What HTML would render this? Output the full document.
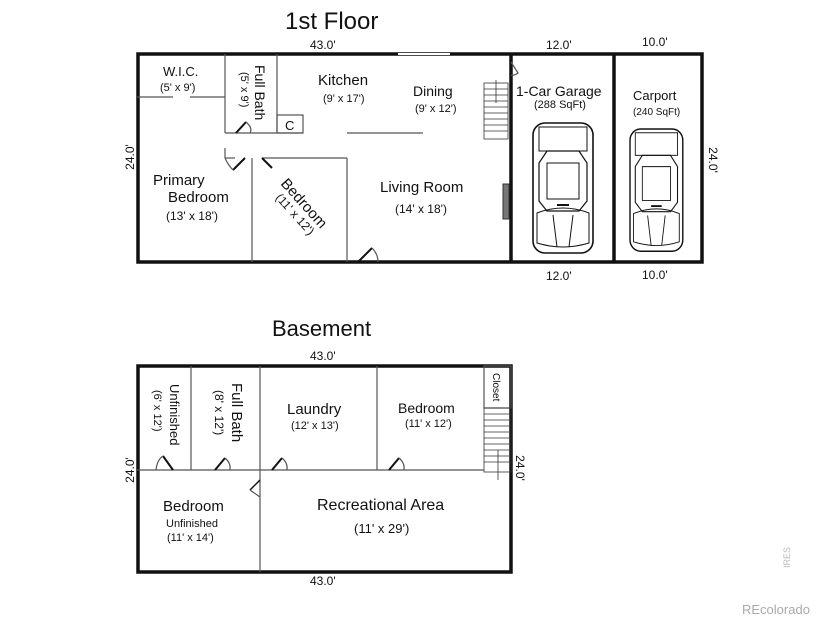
<!DOCTYPE html>
<html><head><meta charset="utf-8"><style>
html,body{margin:0;padding:0;background:#fff}
svg{display:block}
text{font-family:"Liberation Sans",Arial,sans-serif;fill:#111}
</style></head><body>
<svg width="825" height="619" viewBox="0 0 825 619" xmlns="http://www.w3.org/2000/svg">
<defs>
<g id="car">
  <rect x="0" y="0" width="60" height="130" rx="12" fill="none" stroke="#111" stroke-width="1.6"/>
  <rect x="6" y="4" width="48" height="24" fill="none" stroke="#111" stroke-width="1"/>
  <path d="M6 40 L14 28 L46 28 L54 40 L54 78 L46 88 L14 88 L6 78 Z" fill="none" stroke="#111" stroke-width="1.2"/>
  <path d="M14 40 L46 40 L46 76 L14 76 Z" fill="none" stroke="#111" stroke-width="1"/>
  <path d="M4 90 Q30 80 56 90 L56 120 Q30 128 4 120 Z" fill="none" stroke="#111" stroke-width="1"/>
  <line x1="20" y1="92" x2="24" y2="124" stroke="#111"/><line x1="40" y1="92" x2="36" y2="124" stroke="#111"/>
  <line x1="24" y1="82" x2="36" y2="82" stroke="#111" stroke-width="2"/>
</g>
</defs>
<text x="285" y="29" font-size="24">1st Floor</text>
<text x="310" y="49" font-size="12">43.0'</text>
<text x="546" y="49" font-size="12">12.0'</text>
<text x="642" y="46" font-size="12">10.0'</text>
<text x="546" y="280" font-size="12">12.0'</text>
<text x="642" y="279" font-size="12">10.0'</text>
<text transform="translate(134,157) rotate(-90)" font-size="12" text-anchor="middle">24.0'</text>
<text transform="translate(709,160) rotate(90)" font-size="12" text-anchor="middle">24.0'</text>

<!-- outer walls top -->
<g stroke="#111" fill="none">
<rect x="138" y="54" width="564" height="208" stroke-width="3.5"/>
<line x1="511" y1="54" x2="511" y2="262" stroke-width="3.5"/>
<line x1="614" y1="54" x2="614" y2="262" stroke-width="3.5"/>
<line x1="398" y1="54" x2="450" y2="54" stroke="#fff" stroke-width="2"/>
<g stroke-width="1.2" stroke="#555">
<line x1="137" y1="97" x2="173" y2="97"/><line x1="190" y1="97" x2="225" y2="97"/>
<line x1="225" y1="54" x2="225" y2="133"/><line x1="225" y1="148" x2="225" y2="158"/>
<line x1="277" y1="54" x2="277" y2="133"/>
<rect x="277" y="115" width="26" height="18"/>
<line x1="225" y1="133" x2="303" y2="133"/>
<line x1="347" y1="133" x2="423" y2="133"/>
<line x1="225" y1="158" x2="235" y2="158"/><line x1="262" y1="158" x2="347" y2="158"/>
<line x1="252" y1="158" x2="252" y2="262"/><line x1="347" y1="158" x2="347" y2="262"/>
<line x1="236" y1="133" x2="246" y2="122" stroke="#111" stroke-width="2"/>
<path d="M246 122 Q253 128 250 133"/>
<line x1="233" y1="170" x2="245" y2="158" stroke="#111" stroke-width="2"/>
<path d="M233 170 Q228 165 225 158"/>
<line x1="262" y1="158" x2="272" y2="168" stroke="#111" stroke-width="2"/>
<line x1="358" y1="262" x2="372" y2="248" stroke="#111" stroke-width="2"/>
<path d="M372 248 Q378 254 378 262"/>
<path d="M511 62 L518 73 Q514 76 511 75"/>
</g>
<!-- stairs -->
<g stroke="#333" stroke-width="0.8">
<rect x="484" y="83" width="24" height="56"/>
<line x1="484" y1="89" x2="508" y2="89"/><line x1="484" y1="95" x2="508" y2="95"/><line x1="484" y1="101" x2="508" y2="101"/><line x1="484" y1="107" x2="508" y2="107"/><line x1="484" y1="113" x2="508" y2="113"/><line x1="484" y1="119" x2="508" y2="119"/><line x1="484" y1="125" x2="508" y2="125"/><line x1="484" y1="131" x2="508" y2="131"/>
<line x1="496" y1="80" x2="496" y2="103"/>
</g>
<rect x="503" y="184" width="6" height="35" fill="#777" stroke="#333" stroke-width="1"/>
</g>
<use href="#car" x="533" y="123"/>
<use href="#car" transform="translate(630,129) scale(0.88,0.94)"/>

<text x="163" y="76" font-size="13">W.I.C.</text>
<text x="160" y="91" font-size="11">(5' x 9')</text>
<text transform="translate(255,65) rotate(90)" font-size="14">Full Bath</text>
<text transform="translate(241,72) rotate(90)" font-size="11">(5' x 9')</text>
<text x="285" y="130" font-size="13">C</text>
<text x="318" y="85" font-size="15">Kitchen</text>
<text x="323" y="102" font-size="11">(9' x 17')</text>
<text x="413" y="96" font-size="14">Dining</text>
<text x="415" y="112" font-size="11">(9' x 12')</text>
<text x="153" y="185" font-size="15">Primary</text>
<text x="168" y="202" font-size="15">Bedroom</text>
<text x="166" y="220" font-size="12">(13' x 18')</text>
<text transform="translate(280,184) rotate(48)" font-size="15">Bedroom</text>
<text transform="translate(275,198) rotate(48)" font-size="12">(11' x 12')</text>
<text x="380" y="192" font-size="15">Living Room</text>
<text x="395" y="213" font-size="12">(14' x 18')</text>
<text x="516" y="96" font-size="14">1-Car Garage</text>
<text x="534" y="108" font-size="11">(288 SqFt)</text>
<text x="633" y="100" font-size="13">Carport</text>
<text x="633" y="115" font-size="10">(240 SqFt)</text>

<!-- basement -->
<text x="272" y="336" font-size="22">Basement</text>
<text x="310" y="360" font-size="12">43.0'</text>
<text x="310" y="585" font-size="12">43.0'</text>
<text transform="translate(134,470) rotate(-90)" font-size="12" text-anchor="middle">24.0'</text>
<text transform="translate(516,468) rotate(90)" font-size="12" text-anchor="middle">24.0'</text>
<g stroke="#111" fill="none">
<rect x="138" y="366" width="373" height="206" stroke-width="3.5"/>
<g stroke-width="1.2" stroke="#555">
<line x1="191" y1="366" x2="191" y2="470"/>
<line x1="260" y1="366" x2="260" y2="572"/>
<line x1="377" y1="366" x2="377" y2="470"/>
<line x1="137" y1="470" x2="484" y2="470"/>
<rect x="484" y="366" width="27" height="42"/>
<line x1="163" y1="456" x2="173" y2="470" stroke="#111" stroke-width="2"/>
<path d="M156 470 Q157 460 163 456"/>
<line x1="215" y1="470" x2="225" y2="458" stroke="#111" stroke-width="2"/>
<path d="M225 458 Q231 463 230 470"/>
<line x1="272" y1="470" x2="282" y2="458" stroke="#111" stroke-width="2"/>
<path d="M282 458 Q288 463 287 470"/>
<line x1="389" y1="470" x2="399" y2="458" stroke="#111" stroke-width="2"/>
<path d="M399 458 Q405 463 404 470"/>
<line x1="260" y1="480" x2="250" y2="490" stroke="#111" stroke-width="1.5"/>
<line x1="250" y1="490" x2="260" y2="497"/>
</g>
<g stroke="#333" stroke-width="0.8">
<rect x="484" y="408" width="27" height="64"/>
<line x1="484" y1="414" x2="511" y2="414"/><line x1="484" y1="420" x2="511" y2="420"/><line x1="484" y1="426" x2="511" y2="426"/><line x1="484" y1="432" x2="511" y2="432"/><line x1="484" y1="438" x2="511" y2="438"/><line x1="484" y1="444" x2="511" y2="444"/><line x1="484" y1="450" x2="511" y2="450"/><line x1="484" y1="456" x2="511" y2="456"/><line x1="484" y1="462" x2="511" y2="462"/>
<line x1="498" y1="450" x2="498" y2="480"/>
</g>
</g>
<text transform="translate(170,384) rotate(90)" font-size="13">Unfinished</text>
<text transform="translate(154,390) rotate(90)" font-size="11">(6' x 12')</text>
<text transform="translate(232,383) rotate(90)" font-size="15">Full Bath</text>
<text transform="translate(215,390) rotate(90)" font-size="12">(8' x 12')</text>
<text transform="translate(493,373) rotate(90)" font-size="10">Closet</text>
<text x="287" y="414" font-size="15">Laundry</text>
<text x="291" y="429" font-size="11">(12' x 13')</text>
<text x="398" y="413" font-size="14">Bedroom</text>
<text x="405" y="427" font-size="11">(11' x 12')</text>
<text x="163" y="511" font-size="15">Bedroom</text>
<text x="166" y="527" font-size="11">Unfinished</text>
<text x="167" y="541" font-size="11">(11' x 14')</text>
<text x="317" y="510" font-size="16">Recreational Area</text>
<text x="354" y="533" font-size="13">(11' x 29')</text>

<text transform="translate(790,568) rotate(-90)" font-size="9" fill="#bbb" style="fill:#bbb">IRES</text>
<text x="742" y="614" font-size="13" style="fill:#aaa">REcolorado</text>
</svg>
</body></html>
